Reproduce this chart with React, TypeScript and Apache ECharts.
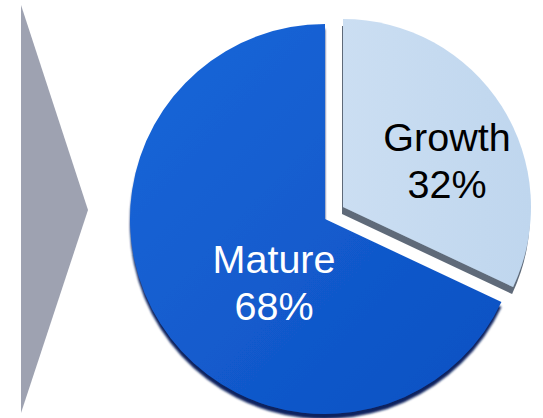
import React, { useEffect, useRef } from "react";
import * as echarts from "echarts";

const categories = ["Growth", "Mature"];
const values = [32, 68];
const labelLines = ["Growth\n32%", "Mature\n68%"];

export default function App() {
  const ref = useRef<HTMLDivElement>(null);
  useEffect(() => {
    if (!ref.current) return;
    const chart = echarts.init(ref.current, undefined, { renderer: "svg" });
    const font = "Liberation Sans, Arial, sans-serif";
    const matureGrad = new echarts.graphic.LinearGradient(0, 0, 1, 1, [
      { offset: 0, color: "#1b67d9" },
      { offset: 1, color: "#0b50c2" },
    ]);
    const growthGrad = new echarts.graphic.LinearGradient(0, 0, 1, 0, [
      { offset: 0, color: "#cbdef2" },
      { offset: 1, color: "#bfd6ee" },
    ]);
    const hidden = {
      itemStyle: { color: "transparent", shadowColor: "transparent" },
      label: { show: false },
      emphasis: { disabled: true },
    };
    const labelPos: Record<string, [number, number]> = {
      Growth: [447, 160],
      Mature: [274, 282],
    };
    const layout = (p: any) => {
      const name = categories[p.dataIndex];
      const pos = labelPos[name];
      if (!pos) return {};
      return { x: pos[0], y: pos[1], align: "center", verticalAlign: "middle" };
    };
    chart.setOption({
      animation: false,
      graphic: [
        {
          type: "polygon",
          shape: { points: [[21, 5], [88, 210], [21, 413]] },
          style: { fill: "#9ea2b1" },
          silent: true,
        },
      ],
      series: [
        {
          type: "pie",
          center: [325, 219],
          radius: 195,
          startAngle: 90,
          silent: true,
          labelLine: { show: false },
          data: categories.map((c, i) =>
            c === "Mature"
              ? {
                  name: c,
                  value: values[i],
                  itemStyle: {
                    color: matureGrad,
                    shadowColor: "#08235e",
                    shadowOffsetY: 5,
                    shadowOffsetX: 0,
                    shadowBlur: 2,
                  },
                  label: {
                    show: true,
                    position: "inside",
                    formatter: labelLines[i],
                    color: "#ffffff",
                    fontSize: 39.5,
                    lineHeight: 47,
                    fontFamily: font,
                    align: "center",
                  },
                }
              : { name: c, value: values[i], ...hidden }
          ),
          labelLayout: layout,
        },
        {
          type: "pie",
          center: [343, 207],
          radius: 188,
          startAngle: 90,
          silent: true,
          labelLine: { show: false },
          data: categories.map((c, i) =>
            c === "Growth"
              ? {
                  name: c,
                  value: values[i],
                  itemStyle: {
                    color: growthGrad,
                    shadowColor: "#5f6b79",
                    shadowOffsetY: 7,
                    shadowOffsetX: -1,
                    shadowBlur: 0,
                  },
                  label: {
                    show: true,
                    position: "inside",
                    formatter: labelLines[i],
                    color: "#000000",
                    fontSize: 39.5,
                    lineHeight: 47,
                    fontFamily: font,
                    align: "center",
                  },
                }
              : { name: c, value: values[i], ...hidden }
          ),
          labelLayout: layout,
        },
      ],
    });
    return () => chart.dispose();
  }, []);
  return <div ref={ref} style={{ width: 543, height: 418, position: "absolute", left: 0, top: 0 }} />;
}
